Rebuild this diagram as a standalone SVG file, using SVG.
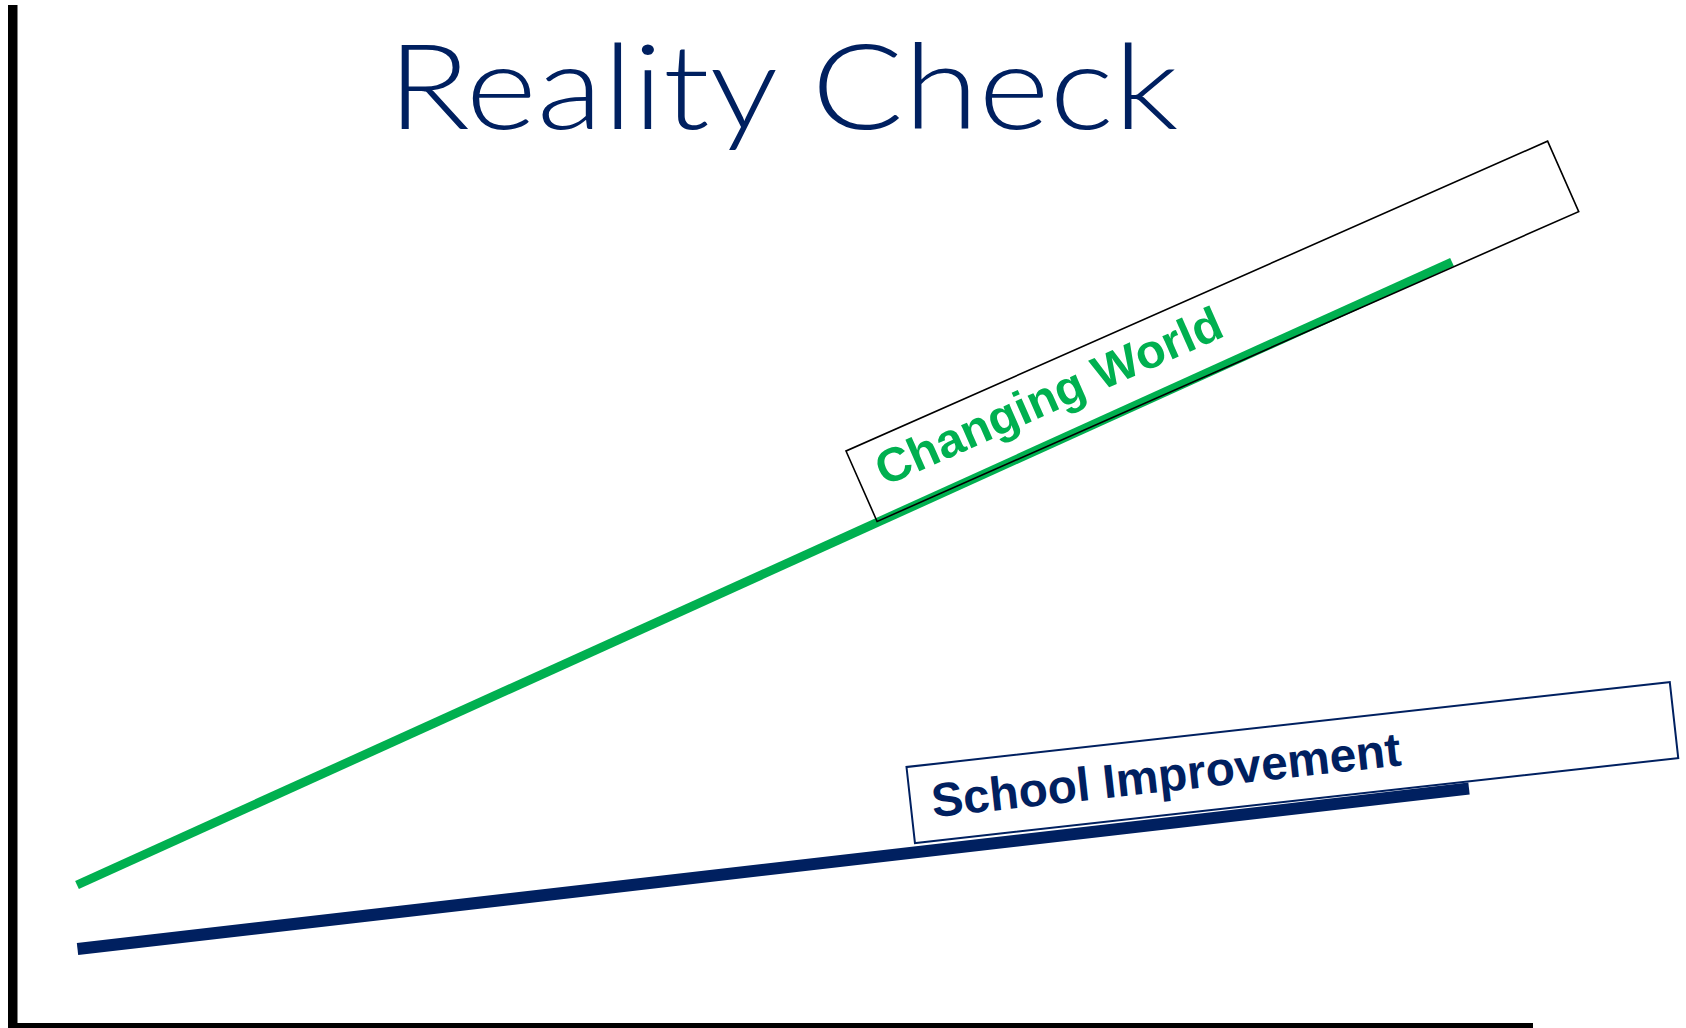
<svg xmlns="http://www.w3.org/2000/svg" width="1686" height="1028" viewBox="0 0 1686 1028">
  <style>
    .title { font-family: "Lato", "Liberation Sans", sans-serif; font-weight: 300; font-size: 117.6px; fill: #002060; }
    .label { font-family: "Liberation Sans", Arial, sans-serif; font-weight: bold; font-size: 47.5px; }
    .axis { fill: #000000; }
  </style>
  <rect width="1686" height="1028" fill="#ffffff"/>
  <g id="axes">
    <rect class="axis" x="8" y="5" width="9.5" height="1023"/>
    <rect class="axis" x="8" y="1023" width="1525" height="5"/>
  </g>
  <g id="title">
    <text class="title" x="387.5" y="129.3" textLength="791" lengthAdjust="spacingAndGlyphs">Reality Check</text>
  </g>
  <g id="connectors">
    <line x1="77" y1="885" x2="1452" y2="262" stroke="#00B050" stroke-width="9" stroke-linecap="butt"/>
    <line x1="77.5" y1="949" x2="1469" y2="788.5" stroke="#002060" stroke-width="12" stroke-linecap="butt"/>
  </g>
  <g id="changing-world" transform="translate(846,451) rotate(-23.83)">
    <rect x="0" y="0" width="767" height="77" fill="none" stroke="#000000" stroke-width="1.6"/>
    <text class="label" x="20.6" y="48" fill="#00B050" textLength="374" lengthAdjust="spacingAndGlyphs">Changing World</text>
  </g>
  <g id="school-improvement" transform="translate(906.5,767) rotate(-6.35)">
    <rect x="0" y="0" width="768" height="76.5" fill="none" stroke="#002060" stroke-width="2"/>
    <text class="label" x="21" y="53" fill="#002060" textLength="472" lengthAdjust="spacingAndGlyphs">School Improvement</text>
  </g>
</svg>
